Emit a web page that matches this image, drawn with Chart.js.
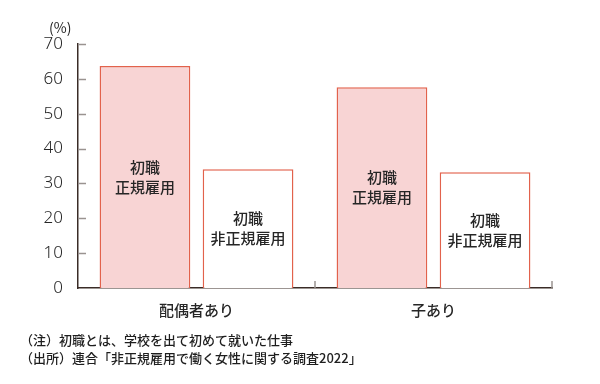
<!DOCTYPE html>
<html>
<head>
<meta charset="utf-8">
<script src="https://cdn.jsdelivr.net/npm/chart.js@4/dist/chart.umd.min.js"></script>
<style>
    body { margin: 0; background: #fff; }
    #wrap { position: relative; width: 600px; height: 384px; }
    .note {
        position: absolute;
        font-family: "Noto Sans CJK JP", sans-serif;
        color: #1e1e1e;
        white-space: nowrap;
    }
</style>
</head>
<body>
<div id="wrap">
    <canvas id="chart" width="600" height="384"></canvas>
    <div class="note" style="left:49px; top:17px; font-size:14px;">(%)</div>
    <div class="note" style="left:20px; top:330px; font-size:13px; font-weight:500;">（注）初職とは、学校を出て初めて就いた仕事</div>
    <div class="note" style="left:20px; top:348px; font-size:13px; font-weight:500;">（出所）連合「非正規雇用で働く女性に関する調査2022」</div>
</div>
<script>
// Data
const categories = ['配偶者あり', '子あり'];
const regularValues = [63.7, 57.6];
const nonRegularValues = [34.1, 33.2];
const seriesLabels = [['初職', '正規雇用'], ['初職', '非正規雇用']];
const yMax = 70;
const yStep = 10;

const axisColor = '#3a2c27';
const tickColor = '#9a9390';
const textColor = '#262626';

// Ticks drawn inward + bar labels
const decorPlugin = {
    id: 'decor',
    afterDatasetsDraw(chart) {
        const ctx = chart.ctx;
        ctx.save();
        ctx.fillStyle = textColor;
        ctx.font = '500 15px "Noto Sans CJK JP"';
        ctx.textAlign = 'center';
        ctx.textBaseline = 'middle';
        chart.data.datasets.forEach((ds, i) => {
            const meta = chart.getDatasetMeta(i);
            meta.data.forEach(bar => {
                const mid = (bar.y + bar.base) / 2;
                const lines = seriesLabels[i];
                lines.forEach((line, j) => {
                    ctx.fillText(line, bar.x, mid + (j - (lines.length - 1) / 2) * 20);
                });
            });
        });
        ctx.restore();
    },
    afterDraw(chart) {
        const ctx = chart.ctx;
        const y = chart.scales.y;
        const x = chart.scales.x;
        const area = chart.chartArea;
        ctx.save();
        ctx.strokeStyle = tickColor;
        ctx.lineWidth = 1.5;
        for (let v = yStep; v <= yMax; v += yStep) {
            const py = Math.round(y.getPixelForValue(v)) + 0.5;
            ctx.beginPath();
            ctx.moveTo(area.left, py);
            ctx.lineTo(area.left + 8, py);
            ctx.stroke();
        }
        const marks = [];
        for (let i = 0; i < categories.length - 1; i++) {
            marks.push((x.getPixelForValue(i) + x.getPixelForValue(i + 1)) / 2);
        }
        marks.push(area.right);
        marks.forEach(px => {
            ctx.beginPath();
            ctx.moveTo(px, area.bottom);
            ctx.lineTo(px, area.bottom - 7);
            ctx.stroke();
        });
        ctx.restore();
    }
};

new Chart(document.getElementById('chart'), {
    type: 'bar',
    data: {
        labels: categories,
        datasets: [
            {
                label: '初職 正規雇用',
                data: regularValues,
                backgroundColor: '#f8d4d4',
                borderColor: '#e2624c',
                borderWidth: 1.5,
                borderSkipped: 'bottom'
            },
            {
                label: '初職 非正規雇用',
                data: nonRegularValues,
                backgroundColor: '#ffffff',
                borderColor: '#e2624c',
                borderWidth: 1.5,
                borderSkipped: 'bottom'
            }
        ]
    },
    options: {
        responsive: false,
        devicePixelRatio: 1,
        animation: false,
        layout: { padding: { top: 44, right: 48, bottom: 0, left: 0 } },
        plugins: {
            legend: { display: false },
            tooltip: { enabled: false }
        },
        datasets: {
            bar: { categoryPercentage: 0.87, barPercentage: 0.88 }
        },
        scales: {
            x: {
                grid: { display: false },
                border: { display: true, color: axisColor, width: 1.5 },
                ticks: {
                    color: textColor,
                    padding: 5,
                    font: { family: '"Noto Sans CJK JP"', size: 15, weight: 500 }
                },
                afterFit: s => { s.height = 96; }
            },
            y: {
                min: 0,
                max: yMax,
                grid: { display: false },
                border: { display: true, color: axisColor, width: 1.5 },
                ticks: {
                    stepSize: yStep,
                    color: textColor,
                    padding: 7,
                    font: { family: '"Noto Sans"', size: 17, weight: 300 }
                },
                afterFit: s => { s.width = 78; }
            }
        }
    },
    plugins: [decorPlugin]
});
</script>
</body>
</html>
